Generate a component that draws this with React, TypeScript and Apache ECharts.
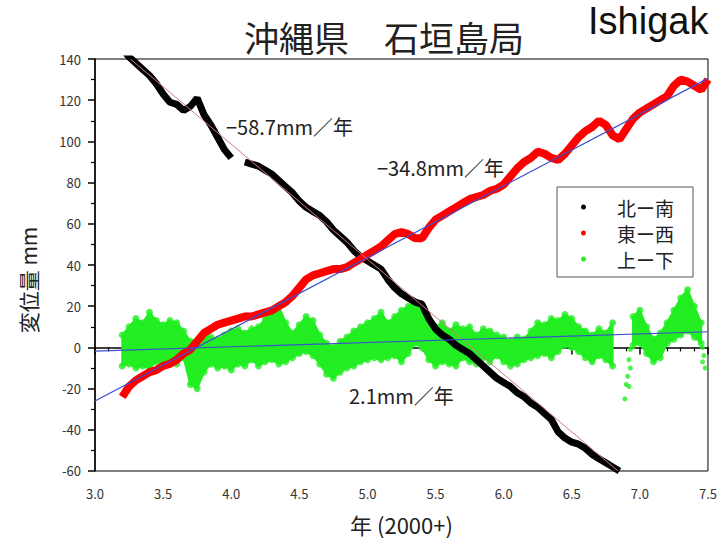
import React, { useEffect, useRef } from "react";
import * as echarts from "echarts";

// Time (years since 2000), sampled every 0.05 yr
const years = [
  3.2, 3.25, 3.3, 3.35, 3.4, 3.45, 3.5, 3.55, 3.6, 3.65,
  3.7, 3.75, 3.8, 3.85, 3.9, 3.95, 4.0, 4.05, 4.1, 4.15,
  4.2, 4.25, 4.3, 4.35, 4.4, 4.45, 4.5, 4.55, 4.6, 4.65,
  4.7, 4.75, 4.8, 4.85, 4.9, 4.95, 5.0, 5.05, 5.1, 5.15,
  5.2, 5.25, 5.3, 5.35, 5.4, 5.45, 5.5, 5.55, 5.6, 5.65,
  5.7, 5.75, 5.8, 5.85, 5.9, 5.95, 6.0, 6.05, 6.1, 6.15,
  6.2, 6.25, 6.3, 6.35, 6.4, 6.45, 6.5, 6.55, 6.6, 6.65,
  6.7, 6.75, 6.8, 6.85, 6.9, 6.95, 7.0, 7.05, 7.1, 7.15,
  7.2, 7.25, 7.3, 7.35, 7.4, 7.45, 7.5,
];

// 北ー南 (mm)
const northSouth: (number | null)[] = [
  145, 141, 138, 135, 132, 128, 123, 119, 118, 115,
  117, 121, 113, 108, 102, 96, 92, null, 90, 89,
  88, 86, 84, 81, 78, 75, 71, 68, 66, 64,
  61, 57, 54, 51, 47, 44, 42, 40, 38, 33,
  29, 26, 24, 22, 21, 14, 9, 6, 4, 1,
  -1, -3, -6, -9, -12, -15, -17, -19, -22, -24,
  -27, -29, -32, -35, -41, -44, -46, -47, -49, -52,
  -54, -56, -58, -60, null, null, null, null, null, null,
  null, null, null, null, null, null, null,
];

// 東ー西 (mm)
const eastWest: (number | null)[] = [
  -24, -19, -16, -14, -12, -11, -9, -8, -6, -3,
  -1, 3, 7, 9, 11, 12, 13, 14, 15, 15,
  16, 17, 18, 20, 22, 25, 29, 33, 35, 36,
  37, 38, 38, 39, 41, 43, 45, 47, 49, 52,
  55, 56, 55, 53, 53, 58, 62, 64, 66, 68,
  70, 72, 73, 74, 76, 77, 79, 83, 87, 90,
  92, 95, 94, 92, 91, 94, 98, 102, 105, 107,
  110, 108, 103, 101, 106, 111, 114, 116, 118, 120,
  122, 127, 130, 129, 127, 125, 130,
];

// 上ー下 (mm): upper and lower edge of the dense scatter cloud
const upDownHigh: (number | null)[] = [
  6, 10, 14, 12, 17, 13, 11, 13, 12, 8,
  3, 2, 6, 5, 4, 6, 8, 9, 7, 9,
  10, 14, 16, 20, 12, 7, 11, 15, 13, 6,
  2, 0, 3, 5, 8, 10, 12, 14, 17, 12,
  15, 18, 20, 22, 18, 12, 10, 12, 8, 11,
  9, 10, 6, 9, 8, 6, 5, 3, 5, 4,
  8, 12, 11, 14, 13, 16, 14, 10, 8, 6,
  9, 7, 12, null, null, 15, 18, 10, 4, 7,
  12, 18, 24, 28, 20, 12, null,
];
const upDownLow: (number | null)[] = [
  -9, -8, -10, -9, -10, -7, -8, -6, -8, -5,
  -18, -20, -12, -8, -10, -9, -11, -8, -9, -6,
  -9, -7, -6, -8, -7, -5, -3, -2, -4, -8,
  -13, -15, -12, -10, -9, -7, -6, -5, -6, -5,
  -4, -7, -3, 2, 0, -6, -9, -7, -8, -9,
  -5, -7, -8, -5, -7, -4, -7, -9, -8, -6,
  -5, -4, -3, -5, -2, 1, 0, -2, -5, -7,
  -4, -6, -9, null, null, 1, 2, -3, -7, -5,
  2, 4, 6, 8, 5, 2, null,
];
// 上ー下: isolated points outside the cloud
const upDownSparse = [
  [6.93, -1], [6.92, -6], [6.93, -10], [6.91, -14], [6.9, -18], [6.92, -19], [6.89, -25],
  [7.46, 0], [7.47, -4], [7.46, -7], [7.48, -10],
];

// Linear trend lines (endpoints)
const nsTrend = [[3.26, 140], [6.84, -60]];
const ewTrend = [[3.0, -26], [7.5, 130.6]];
const udTrend = [[3.0, -1.8], [7.5, 7.6]];

const seriesNames = ["北ー南", "東ー西", "上ー下"];
const rateLabels = ["−58.7mm／年", "−34.8mm／年", "2.1mm／年"];

const FONT = "'Noto Sans CJK JP', 'Noto Sans', sans-serif";
const GREEN = "#22ee22";

export default function App() {
  const ref = useRef<HTMLDivElement>(null);

  useEffect(() => {
    if (!ref.current) return;
    const chart = echarts.init(ref.current, null, { renderer: "svg" });

    const toPairs = (vals: (number | null)[]) =>
      years.map((t, i) => [t, vals[i] === null ? "-" : vals[i]]);

    const bandData = years.map((t, i) => [t, upDownHigh[i] ?? "-", upDownLow[i] ?? "-"]);
    const edgeData: number[][] = [];
    years.forEach((t, i) => {
      if (upDownHigh[i] != null) edgeData.push([t, upDownHigh[i] as number]);
      if (upDownLow[i] != null) edgeData.push([t, upDownLow[i] as number]);
    });

    chart.setOption({
      animation: false,
      backgroundColor: "#ffffff",
      title: {
        text: "沖縄県　石垣島局",
        left: 239,
        top: 14,
        textStyle: { fontFamily: FONT, fontSize: 35, fontWeight: "normal", color: "#222" },
      },
      legend: {
        data: seriesNames,
        orient: "vertical",
        left: 557,
        top: 187,
        icon: "circle",
        itemWidth: 5,
        itemHeight: 5,
        itemGap: 6,
        padding: [10, 19, 8, 24],
        borderColor: "#555",
        borderWidth: 1,
        borderRadius: 0,
        backgroundColor: "#fff",
        selectedMode: false,
        textStyle: {
          fontFamily: FONT,
          fontSize: 19,
          color: "#222",
          lineHeight: 20,
          padding: [0, 0, 0, 26],
        },
      },
      grid: {
        left: 95,
        right: 12,
        top: 59,
        bottom: 68,
        show: true,
        borderColor: "#000",
        borderWidth: 1,
      },
      xAxis: {
        type: "value",
        min: 3,
        max: 7.5,
        interval: 0.5,
        name: "年 (2000+)",
        nameLocation: "middle",
        nameGap: 42,
        nameTextStyle: { fontFamily: FONT, fontSize: 22, color: "#222" },
        axisLine: { lineStyle: { color: "#000", width: 1.5 } },
        axisTick: { length: 7, lineStyle: { color: "#000", width: 1.5 } },
        minorTick: { show: true, splitNumber: 5, length: 4, lineStyle: { color: "#000", width: 1.2 } },
        splitLine: { show: false },
        axisLabel: {
          formatter: (v: number) => v.toFixed(1),
          fontFamily: FONT,
          fontSize: 13,
          color: "#333",
          margin: 16,
        },
      },
      yAxis: {
        type: "value",
        min: -60,
        max: 140,
        interval: 20,
        axisLine: { show: true, lineStyle: { color: "#000", width: 1.5 } },
        axisTick: { show: true, length: 7, lineStyle: { color: "#000", width: 1.5 } },
        minorTick: { show: true, splitNumber: 2, length: 4, lineStyle: { color: "#000", width: 1.2 } },
        splitLine: { show: false },
        axisLabel: { fontFamily: FONT, fontSize: 13, color: "#333", margin: 14 },
      },
      graphic: [
        {
          type: "text",
          x: 588,
          y: 21,
          style: {
            text: "Ishigak",
            fontFamily: "'Liberation Sans', Arial, sans-serif",
            fontSize: 38,
            fill: "#111",
            align: "left",
            verticalAlign: "middle",
          },
        },
        {
          type: "text",
          x: 28,
          y: 280,
          rotation: Math.PI / 2,
          style: {
            text: "変位量 mm",
            fontFamily: FONT,
            fontSize: 21,
            fill: "#222",
            align: "center",
            verticalAlign: "middle",
          },
        },
        {
          type: "text",
          x: 226,
          y: 126,
          z: 10,
          style: { text: rateLabels[0], fontFamily: FONT, fontSize: 20, fill: "#222", verticalAlign: "middle" },
        },
        {
          type: "text",
          x: 377,
          y: 167,
          z: 10,
          style: { text: rateLabels[1], fontFamily: FONT, fontSize: 20, fill: "#222", verticalAlign: "middle" },
        },
        {
          type: "text",
          x: 349,
          y: 395,
          z: 10,
          style: { text: rateLabels[2], fontFamily: FONT, fontSize: 20, fill: "#222", verticalAlign: "middle" },
        },
      ],
      series: [
        {
          name: seriesNames[2],
          type: "custom",
          data: bandData,
          encode: { x: 0, y: [1, 2] },
          itemStyle: { color: GREEN },
          clip: true,
          renderItem: (params: any, api: any) => {
            const i = params.dataIndex;
            if (i >= years.length - 1) return null;
            const h0 = upDownHigh[i], l0 = upDownLow[i];
            const h1 = upDownHigh[i + 1], l1 = upDownLow[i + 1];
            if (h0 == null || l0 == null || h1 == null || l1 == null) return null;
            const p1 = api.coord([years[i], h0]);
            const p2 = api.coord([years[i + 1], h1]);
            const p3 = api.coord([years[i + 1], l1]);
            const p4 = api.coord([years[i], l0]);
            return {
              type: "polygon",
              shape: { points: [p1, p2, p3, p4] },
              style: { fill: GREEN, stroke: GREEN, lineWidth: 2, lineJoin: "round" },
            };
          },
        },
        {
          name: seriesNames[2],
          type: "scatter",
          data: edgeData,
          symbol: "circle",
          symbolSize: 7,
          itemStyle: { color: GREEN },
        },
        {
          name: seriesNames[2],
          type: "scatter",
          data: upDownSparse,
          symbol: "circle",
          symbolSize: 5,
          itemStyle: { color: GREEN },
        },
        {
          name: seriesNames[0],
          type: "line",
          data: toPairs(northSouth),
          color: "#000000",
          showSymbol: false,
          lineStyle: { color: "#000000", width: 7 },
        },
        {
          name: seriesNames[1],
          type: "line",
          data: toPairs(eastWest),
          color: "#ff0000",
          showSymbol: false,
          lineStyle: { color: "#ff0000", width: 8 },
        },
        {
          name: "trendNS",
          type: "line",
          data: nsTrend,
          showSymbol: false,
          silent: true,
          lineStyle: { color: "#d0788a", width: 1 },
        },
        {
          name: "trendEW",
          type: "line",
          data: ewTrend,
          showSymbol: false,
          silent: true,
          lineStyle: { color: "#3b4fd0", width: 1.2 },
        },
        {
          name: "trendUD",
          type: "line",
          data: udTrend,
          showSymbol: false,
          silent: true,
          lineStyle: { color: "#3b4fd0", width: 1.2 },
        },
      ],
    });

    return () => chart.dispose();
  }, []);

  return (
    <div
      ref={ref}
      style={{ position: "fixed", left: 0, top: 0, width: 720, height: 540, background: "#fff" }}
    />
  );
}
